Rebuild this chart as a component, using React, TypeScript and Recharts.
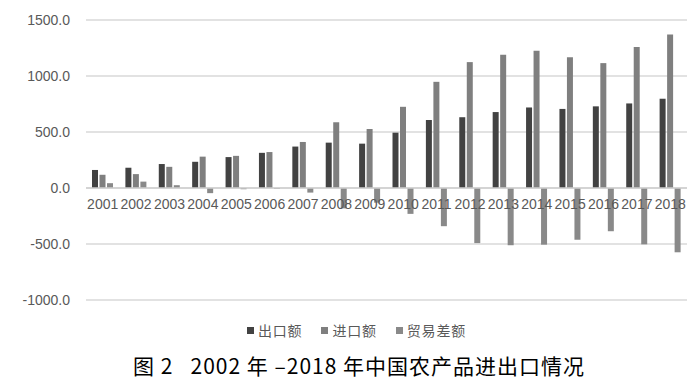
import { Bar, BarChart, CartesianGrid, Legend, ReferenceLine, XAxis, YAxis } from "recharts";

// ── data (亿美元) ─────────────────────────────────────────────────────────────

const years = [
  "2001", "2002", "2003", "2004", "2005", "2006", "2007", "2008", "2009",
  "2010", "2011", "2012", "2013", "2014", "2015", "2016", "2017", "2018",
];
const exportVals = [161, 181, 214, 234, 276, 314, 370, 405, 396, 494, 607, 632, 678, 719, 706, 729, 755, 797];
const importVals = [118, 124, 189, 280, 287, 321, 411, 587, 527, 725, 948, 1124, 1189, 1225, 1168, 1115, 1258, 1371];
const balanceVals = [43, 57, 25, -46, -11, -7, -41, -182, -131, -231, -341, -492, -511, -506, -462, -386, -503, -574];
const yTicks = [-1000, -500, 0, 500, 1000, 1500];

const data = years.map((year, i) => ({
  year,
  exp: exportVals[i],
  imp: importVals[i],
  bal: balanceVals[i],
}));

// ── layout ──────────────────────────────────────────────────────────────────

const W = 700;
const H = 345;
const TOP = 20;
const X_AXIS_H = 15;
const LEGEND_H = 30;
const PLOT_H = H - TOP - X_AXIS_H - LEGEND_H;
const Y_MIN = -1000;
const Y_MAX = 1500;
// the category labels sit just under the zero line, as in the original
const ZERO_Y = TOP + (PLOT_H * Y_MAX) / (Y_MAX - Y_MIN);

const FONT = "'Liberation Sans', Arial, sans-serif";
const TEXT = "#595959";
const series = [
  { key: "exp", name: "出口额", color: "#424242" },
  { key: "imp", name: "进口额", color: "#7f7f7f" },
  { key: "bal", name: "贸易差额", color: "#898989" },
];

interface TickProps {
  x?: number;
  payload?: { value: string };
}

function YearTick({ x = 0, payload }: TickProps) {
  return (
    <text x={x} y={ZERO_Y + 21} textAnchor="middle" fontSize={14} fill={TEXT} fontFamily={FONT}>
      {payload?.value}
    </text>
  );
}

function LegendBox() {
  return (
    <div
      style={{
        display: "flex",
        justifyContent: "center",
        gap: 19,
        fontSize: 14,
        color: TEXT,
        paddingLeft: 26,
        paddingTop: 5,
        letterSpacing: 0.8,
      }}
    >
      {series.map((s) => (
        <span key={s.key} style={{ display: "flex", alignItems: "center" }}>
          <span style={{ width: 7, height: 7, background: s.color, marginRight: 4, display: "inline-block" }} />
          <span style={{ fontFamily: "'Noto Sans CJK SC', sans-serif" }}>{s.name}</span>
        </span>
      ))}
    </div>
  );
}

export default function App() {
  return (
    <div style={{ position: "absolute", left: 0, top: 0, width: W, height: 387, background: "#fff" }}>
      <BarChart
        width={W}
        height={H}
        data={data}
        margin={{ top: TOP, right: 13, bottom: 0, left: 0 }}
        barCategoryGap="18%"
        barGap={1.5}
      >
        <CartesianGrid vertical={false} stroke="#d9d9d9" strokeWidth={1.3} />
        <YAxis
          width={86}
          domain={[Y_MIN, Y_MAX]}
          ticks={yTicks}
          tickFormatter={(v: number) => v.toFixed(1)}
          axisLine={false}
          tickLine={false}
          tickSize={0}
          tickMargin={16}
          tick={{ fontSize: 14, fill: TEXT, fontFamily: FONT }}
        />
        <XAxis
          dataKey="year"
          height={X_AXIS_H}
          axisLine={false}
          tickLine={false}
          interval={0}
          tick={<YearTick />}
        />
        <ReferenceLine y={0} stroke="#cfcfcf" strokeWidth={1.3} />
        <Legend verticalAlign="bottom" height={LEGEND_H} content={<LegendBox />} />
        {series.map((s) => (
          <Bar key={s.key} dataKey={s.key} name={s.name} fill={s.color} barSize={6} isAnimationActive={false} />
        ))}
      </BarChart>
      <div
        style={{
          position: "absolute",
          left: 133,
          top: 350,
          fontSize: 21,
          fontWeight: 400,
          letterSpacing: 1,
          color: "#000",
          fontFamily: "'Noto Sans CJK SC', sans-serif",
          whiteSpace: "pre",
        }}
      >
        {"图 2   2002 年 –2018 年中国农产品进出口情况"}
      </div>
    </div>
  );
}
